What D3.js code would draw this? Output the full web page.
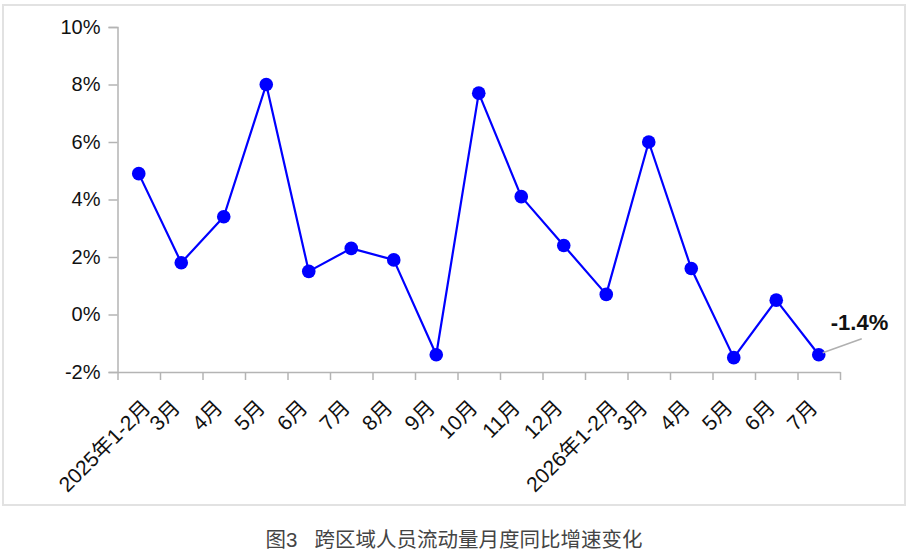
<!DOCTYPE html>
<html>
<head>
<meta charset="utf-8">
<script src="https://cdn.jsdelivr.net/npm/d3@7"></script>
<style>
  html, body { margin: 0; padding: 0; background: #fff; }
  svg { display: block; }
  text { font-family: "Liberation Sans", Arial, "Noto Sans CJK SC", sans-serif; }
</style>
</head>
<body>
<svg id="chart" width="908" height="554"></svg>
<script>
const categories = ["2025年1-2月","3月","4月","5月","6月","7月","8月","9月","10月","11月","12月",
                    "2026年1-2月","3月","4月","5月","6月","7月"];
const growth = [4.9, 1.8, 3.4, 8.0, 1.5, 2.3, 1.9, -1.4, 7.7, 4.1, 2.4,
                0.7, 6.0, 1.6, -1.5, 0.5, -1.4];
const yTicks = [-2, 0, 2, 4, 6, 8, 10];
const lastLabel = "-1.4%";
const caption = "图3   跨区域人员流动量月度同比增速变化";

(function () {
const svg = d3.select("#chart");
const mLeft = 117.5, mRight = 840, mTop = 27, mBottom = 372;

// frame
svg.append("rect").attr("x", 3).attr("y", 5).attr("width", 902).attr("height", 500)
  .attr("fill", "#fff").attr("stroke", "#e2e2e2").attr("stroke-width", 2);

const ids = categories.map((d, i) => i);
const x = d3.scaleBand().domain(ids).range([mLeft, mRight]).padding(0);
const xEdge = d3.scaleLinear().domain([0, categories.length]).range([mLeft, mRight]);
const y = d3.scaleLinear().domain([-2, 10]).range([mBottom, mTop]);

const axisColor = "#b4b4b4";

// y axis
const gy = svg.append("g").attr("transform", `translate(${mLeft},0)`)
  .call(d3.axisLeft(y).tickValues(yTicks).tickFormat(d => d + "%").tickSize(9).tickPadding(8));
gy.select(".domain").attr("stroke", axisColor).attr("stroke-width", 1.5);
gy.selectAll(".tick line").attr("stroke", axisColor).attr("stroke-width", 1.5);
gy.selectAll(".tick text").attr("font-size", 20).attr("fill", "#111")
  .attr("font-family", "'Liberation Sans', Arial, sans-serif");

// x axis: ticks at band edges
const gxTicks = svg.append("g").attr("transform", `translate(0,${mBottom})`)
  .call(d3.axisBottom(xEdge).tickValues(d3.range(categories.length + 1)).tickFormat("").tickSize(8).tickSizeOuter(0));
gxTicks.select(".domain").attr("stroke", axisColor).attr("stroke-width", 1.5);
gxTicks.selectAll(".tick line").attr("stroke", axisColor).attr("stroke-width", 1.5);

// x labels
const gx = svg.append("g").attr("transform", `translate(0,${mBottom})`)
  .call(d3.axisBottom(x).tickFormat(i => categories[i]).tickSize(0));
gx.select(".domain").remove();
gx.selectAll(".tick text")
  .attr("font-size", 21).attr("fill", "#111")
  .attr("text-anchor", "end")
  .attr("x", 0).attr("y", 0).attr("dy", 0)
  .attr("transform", (i) => {
    const shift = categories[i].length > 4 ? 13 : 0;
    return `translate(${shift},37) rotate(-45)`;
  });

// line + points
const line = d3.line().x((d, i) => x(i) + x.bandwidth() / 2).y(d => y(d));
svg.append("path").datum(growth).attr("d", line)
  .attr("fill", "none").attr("stroke", "#0000ff").attr("stroke-width", 2.2)
  .attr("stroke-linejoin", "round");
svg.selectAll("circle.pt").data(growth).join("circle").attr("class", "pt")
  .attr("cx", (d, i) => x(i) + x.bandwidth() / 2).attr("cy", d => y(d))
  .attr("r", 6.8).attr("fill", "#0000ff");

// annotation on last point
const li = growth.length - 1;
const lx = x(li) + x.bandwidth() / 2, ly = y(growth[li]);
svg.append("line").attr("x1", lx + 4).attr("y1", ly - 2).attr("x2", lx + 43).attr("y2", ly - 16)
  .attr("stroke", "#b0b0b0").attr("stroke-width", 1.5);
svg.append("text").attr("x", lx + 12).attr("y", ly - 25)
  .attr("font-size", 22).attr("font-weight", "bold").attr("fill", "#111")
  .text(lastLabel);

// caption
svg.append("text").attr("x", 454).attr("y", 547).attr("text-anchor", "middle")
  .attr("font-size", 20.5).attr("fill", "#444")
  .style("white-space", "pre")
  .attr("font-family", "'Noto Sans CJK SC', sans-serif")
  .text(caption);
})();
</script>
</body>
</html>
